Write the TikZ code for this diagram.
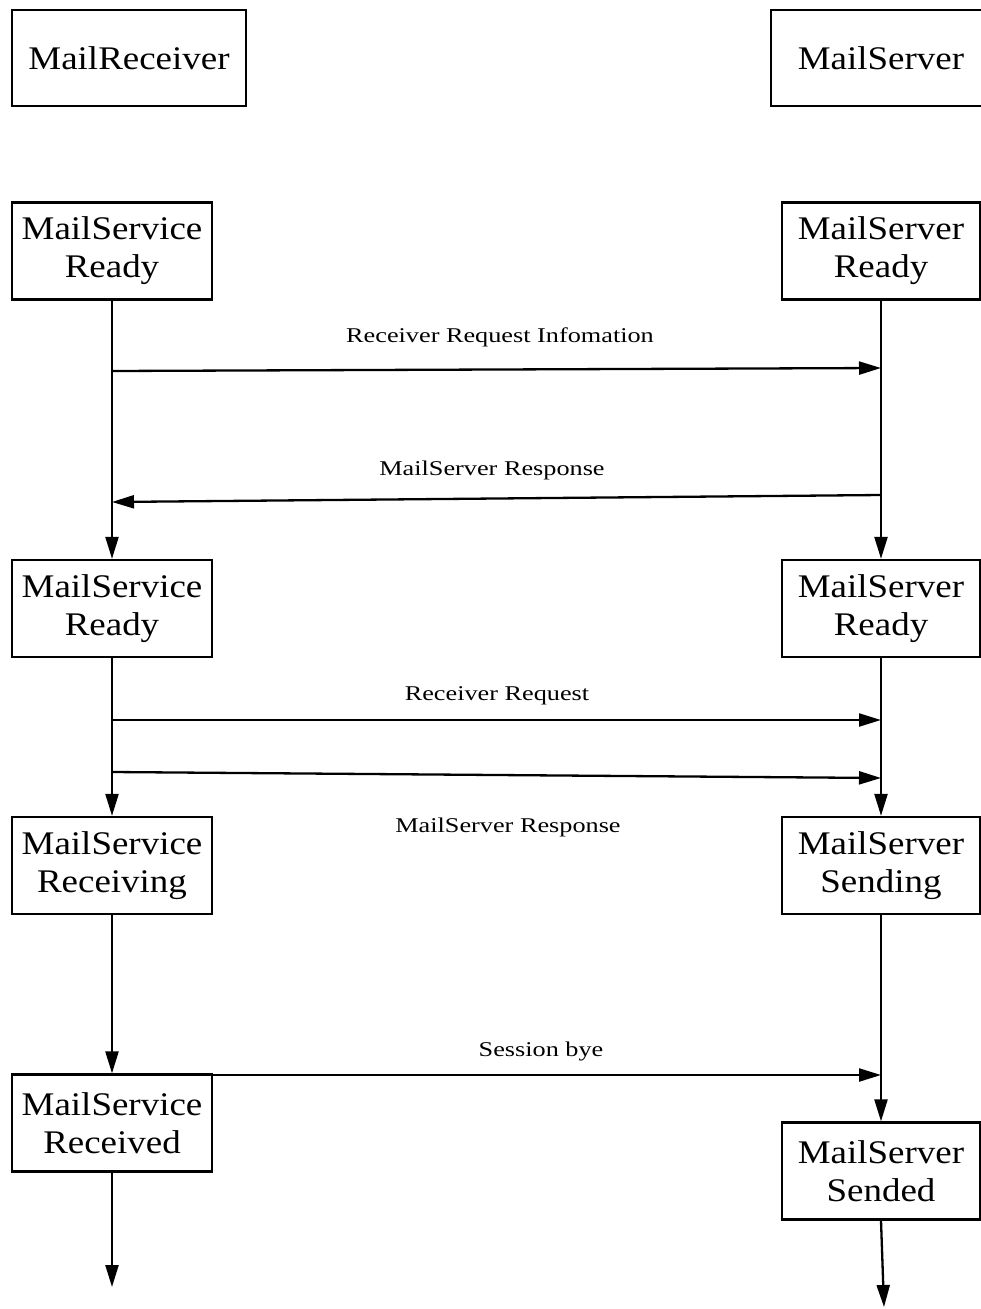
\documentclass[tikz,border=0pt]{standalone}
\usepackage{fontspec}
\setmainfont{Liberation Serif}
\newfontfamily\boxfont[FakeStretch=1.12]{Liberation Serif}
\newfontfamily\msgfont[FakeStretch=1.25]{Liberation Serif}
\usetikzlibrary{arrows.meta}

\begin{document}
\begin{tikzpicture}[x=1pt,y=-1pt,
  state/.style={draw, line width=2.3pt, minimum width=200pt, minimum height=97pt,
    inner sep=0pt, align=center, font=\boxfont\fontsize{33}{38}\selectfont},
  flow/.style={line width=2.3pt, -{Triangle[length=22pt,width=13pt]}},
  lbl/.style={font=\msgfont\fontsize{21}{24}\selectfont, inner sep=0pt, anchor=base}]

\useasboundingbox[fill=white] (0,0) rectangle (981,1309);

% participants
\node[state, minimum width=234pt, minimum height=96pt] (recv) at (129,58) {MailReceiver};
\node[state, minimum width=220pt, minimum height=96pt] (srv) at (881,58) {MailServer};

% receiver states
\node[state] (rA) at (112,251) {MailService\\Ready};
\node[state] (rB) at (112,608.5) {MailService\\Ready};
\node[state] (rC) at (112,865.5) {MailService\\Receiving};
\node[state] (rD) at (112,1123) {MailService\\Received};

% server states
\node[state, minimum width=198pt] (sA) at (881,251) {MailServer\\Ready};
\node[state, minimum width=198pt] (sB) at (881,608.5) {MailServer\\Ready};
\node[state, minimum width=198pt] (sC) at (881,865.5) {MailServer\\Sending};
\node[state, minimum width=198pt] (sD) at (881,1171) {MailServer\\Sended};

% lifelines
\draw[flow] (rA.south) -- (rB.north);
\draw[flow] (rB.south) -- (rC.north);
\draw[flow] (rC.south) -- (rD.north);
\coordinate (rEnd) at (112,1287);
\draw[flow] (rD.south) -- (rEnd);

\draw[flow] (sA.south) -- (sB.north);
\draw[flow] (sB.south) -- (sC.north);
\draw[flow] (sC.south) -- (sD.north);
\coordinate (sEnd) at (884,1307);
\draw[flow] (sD.south) -- (sEnd);

% message end points on the lifelines
\coordinate (m1a) at (112,371);  \coordinate (m1b) at (881,368);
\coordinate (m2a) at (881,495);  \coordinate (m2b) at (112,502);
\coordinate (m3a) at (112,720);  \coordinate (m3b) at (881,720);
\coordinate (m4a) at (112,772);  \coordinate (m4b) at (881,778);
\coordinate (m5a) at (112,1075); \coordinate (m5b) at (881,1075);

% messages
\draw[flow] (m1a) -- (m1b);
\draw[flow] (m2a) -- (m2b);
\draw[flow] (m3a) -- (m3b);
\draw[flow] (m4a) -- (m4b);
\draw[flow] (m5a) -- (m5b);

% message labels
\node[lbl] (t1) at (500,342) {Receiver Request Infomation};
\node[lbl] (t2) at (492,475) {MailServer Response};
\node[lbl] (t3) at (497,700) {Receiver Request};
\node[lbl] (t4) at (508,832) {MailServer Response};
\node[lbl] (t5) at (541,1056) {Session bye};
\end{tikzpicture}
\end{document}
